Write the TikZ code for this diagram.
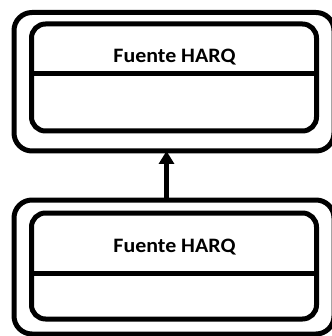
\documentclass[tikz,border=0pt]{standalone}
\usepackage{fontspec}
\setmainfont{Carlito}
\usetikzlibrary{arrows.meta, positioning}

\tikzset{
  outerbox/.style={draw, line width=5pt, rounded corners=18pt, inner sep=0pt, outer sep=0pt},
  innerbox/.style={draw, line width=5pt, rounded corners=14pt, inner sep=0pt, outer sep=0pt},
  harqtitle/.style={font=\fontsize{20.5}{24}\selectfont\bfseries, inner sep=0pt, xscale=1.07},
}

\begin{document}
\begin{tikzpicture}[x=1pt, y=-1pt, line width=5pt, >={Triangle[length=13pt, width=15pt]}]
\useasboundingbox (0,0) rectangle (331,336);

  % upper block
  \node[outerbox, minimum width=320pt, minimum height=138.5pt] (Src)   at (174, 81.75) {};
  \node[innerbox, minimum width=285pt, minimum height=107pt]   (SrcIn) at (174, 77.5)  {};
  \node[harqtitle, anchor=base] (SrcTxt) at (174.5, 63) {Fuente HARQ};
  \draw ([yshift=-50pt]SrcIn.north west) -- ([yshift=-50pt]SrcIn.north east);

  % lower block
  \node[outerbox, minimum width=320pt, minimum height=134pt]   (Dst)   at (174, 267) {};
  \node[innerbox, minimum width=285pt, minimum height=106pt]   (DstIn) at (174, 266) {};
  \node[harqtitle, anchor=base] (DstTxt) at (174.5, 252.5) {Fuente HARQ};
  \draw ([yshift=-60.5pt]DstIn.north west) -- ([yshift=-60.5pt]DstIn.north east);

  \draw[->] ([xshift=-7.5pt]Dst.north) -- ([xshift=-7.5pt]Src.south);

\end{tikzpicture}
\end{document}
